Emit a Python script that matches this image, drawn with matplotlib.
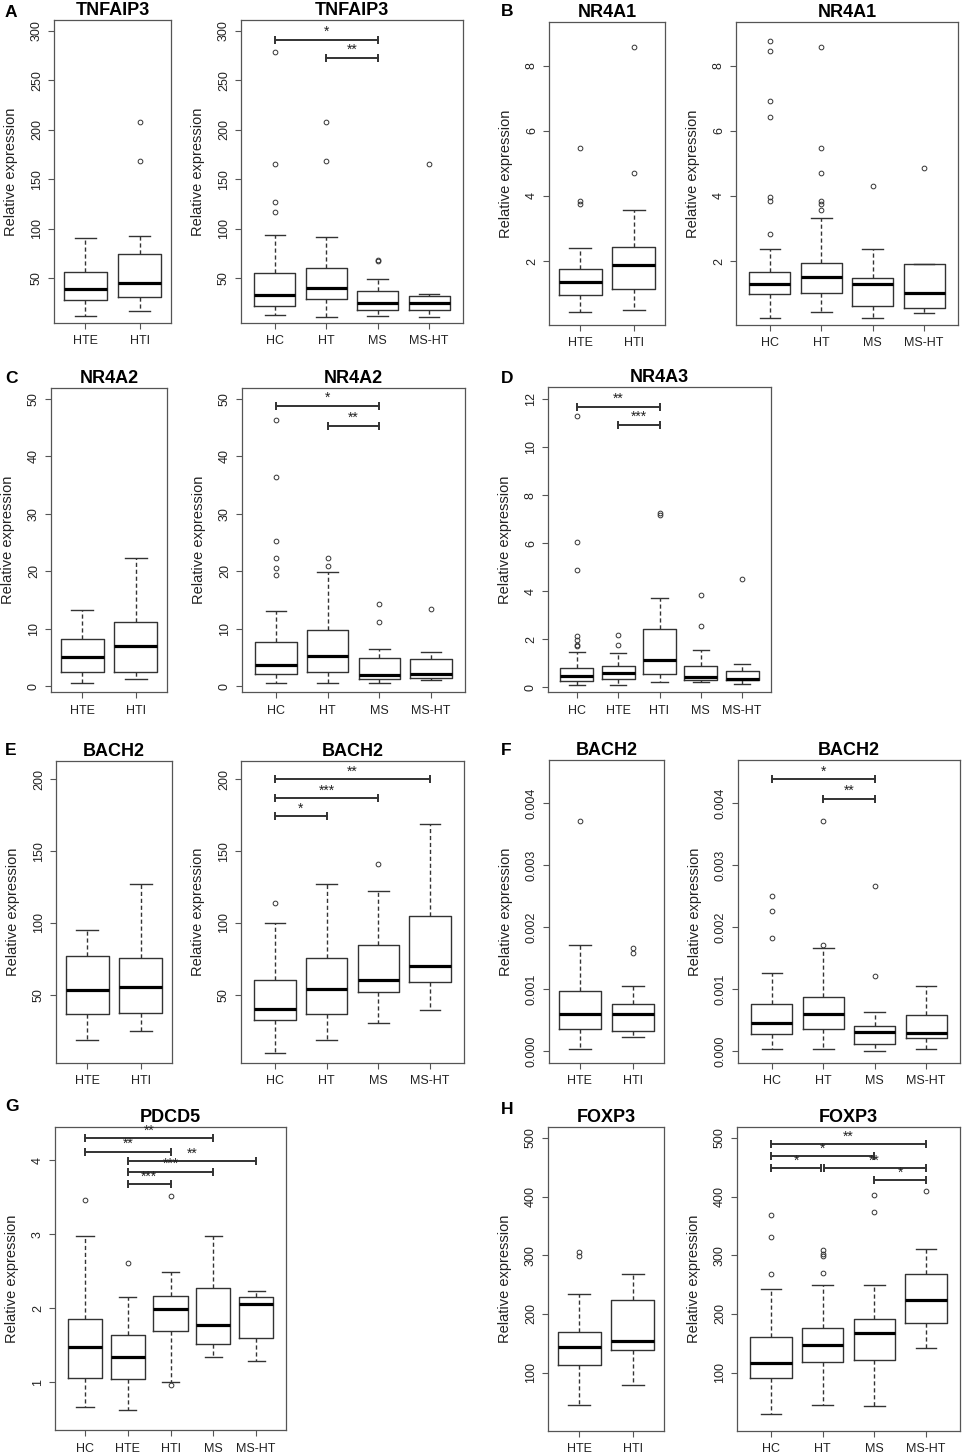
import numpy as np
import matplotlib
matplotlib.use("Agg")
import matplotlib.pyplot as plt

plt.rcParams['font.family'] = ['Liberation Sans', 'DejaVu Sans']

W, H = 964, 1455

# -------------------------
# Data
# box rows: [lower whisker, Q1, median, Q3, upper whisker]
# -------------------------

sub_groups = ["HTE", "HTI"]
main_groups = ["HC", "HT", "MS", "MS-HT"]
five_groups = ["HC", "HTE", "HTI", "MS", "MS-HT"]

tnfaip3_sub = [[11.5, 27.4, 38.5, 55.7, 90.2],
               [16.2, 30.7, 45.3, 74.0, 92.6]]
tnfaip3_sub_out = [[], [207.4, 168.6]]
tnfaip3_main = [[12.8, 21.6, 32.4, 54.7, 93.9],
                [10.8, 28.4, 40.2, 60.1, 91.9],
                [11.5, 17.2, 24.3, 36.5, 48.6],
                [10.8, 17.2, 24.3, 31.8, 33.8]]
tnfaip3_main_out = [[278.4, 165.2, 127.4, 116.6], [207.4, 168.6], [68.2, 66.9], [165.2]]
tnfaip3_sig = [(0, 2, 290.9, "*"), (1, 2, 273.0, "**")]

nr4a1_sub = [[0.426, 0.968, 1.346, 1.765, 2.40],
             [0.487, 1.13, 1.877, 2.43, 3.564]]
nr4a1_sub_out = [[5.475, 3.84, 3.75], [8.58, 4.70]]
nr4a1_main = [[0.242, 0.978, 1.305, 1.673, 2.378],
              [0.436, 1.008, 1.509, 1.939, 3.319],
              [0.242, 0.62, 1.295, 1.489, 2.358],
              [0.395, 0.569, 1.019, 1.898, 1.898]]
nr4a1_main_out = [[8.767, 8.46, 6.917, 6.436, 3.983, 3.86, 2.818],
                  [8.58, 5.486, 4.70, 3.86, 3.75, 3.584], [4.32], [4.872]]

nr4a2_sub = [[0.58, 2.44, 5.06, 8.26, 13.31],
             [1.34, 2.56, 6.92, 11.16, 22.27]]
nr4a2_sub_out = [[], []]
nr4a2_main = [[0.64, 2.15, 3.72, 7.73, 13.14],
              [0.64, 2.5, 5.35, 9.71, 19.83],
              [0.64, 1.28, 1.98, 4.83, 6.45],
              [1.16, 1.51, 2.09, 4.71, 5.93]]
nr4a2_main_out = [[46.28, 36.4, 25.23, 22.33, 20.58, 19.3], [22.33, 20.99], [14.24, 11.1], [13.43]]
nr4a2_sig = [(0, 2, 48.78, "*"), (1, 2, 45.35, "**")]

nr4a3 = [[0.083, 0.264, 0.458, 0.806, 1.458],
         [0.083, 0.361, 0.611, 0.875, 1.43],
         [0.21, 0.57, 1.15, 2.42, 3.71],
         [0.24, 0.32, 0.417, 0.875, 1.556],
         [0.153, 0.29, 0.361, 0.694, 0.986]]
nr4a3_out = [[11.29, 6.04, 4.875, 2.15, 1.99, 1.78, 1.71], [2.19, 1.75], [7.26, 7.19], [3.86, 2.56], [4.53]]
nr4a3_sig = [(0, 2, 11.69, "**"), (1, 2, 10.94, "***")]

bach2_e_sub = [[18.75, 36.8, 53.5, 77.1, 95.1],
               [25.0, 37.0, 55.3, 75.5, 127.1]]
bach2_e_sub_out = [[], []]
bach2_e_main = [[9.5, 32.2, 39.8, 60.0, 99.8],
                [18.75, 36.6, 53.7, 75.7, 127.1],
                [30.6, 52.1, 60.6, 84.5, 122.0],
                [39.6, 59.0, 69.9, 105.1, 168.75]]
bach2_e_main_out = [[113.9], [], [141.2], []]
bach2_e_sig = [(0, 3, 200.0, "**"), (0, 2, 186.6, "***"), (0, 1, 174.3, "*")]

# panel F values are in units of 1e-3
bach2_f_sub = [[0.043, 0.354, 0.606, 0.971, 1.716],
               [0.225, 0.322, 0.595, 0.756, 1.056]]
bach2_f_sub_out = [[3.71], [1.657, 1.576]]
bach2_f_main = [[0.043, 0.273, 0.450, 0.767, 1.265],
                [0.043, 0.354, 0.601, 0.879, 1.668],
                [0.005, 0.118, 0.316, 0.408, 0.638],
                [0.043, 0.214, 0.300, 0.590, 1.046]]
bach2_f_main_out = [[2.499, 2.268, 1.823], [3.716, 1.716], [2.66, 1.206], []]
bach2_f_sig = [(0, 2, 4.386, "*"), (1, 2, 4.07, "**")]

pdcd5 = [[0.662, 1.059, 1.474, 1.862, 2.971],
         [0.621, 1.045, 1.347, 1.636, 2.155],
         [1.0, 1.690, 1.988, 2.173, 2.493],
         [1.347, 1.519, 1.776, 2.281, 2.98],
         [1.289, 1.60, 2.065, 2.15, 2.24]]
pdcd5_out = [[3.468], [2.606], [3.517, 0.968], [], []]
pdcd5_sig = [(0, 3, 4.302, "**"), (0, 2, 4.117, "**"), (1, 4, 3.991, "**"),
             (1, 3, 3.847, "***"), (1, 2, 3.68, "***")]

foxp3_sub = [[44.7, 112.5, 143.9, 168.9, 233.9],
             [79.5, 138.7, 154.1, 224.2, 268.1]]
foxp3_sub_out = [[306.3, 299.4], []]
foxp3_main = [[28.8, 90.9, 117.1, 160.4, 243.0],
              [44.7, 118.8, 147.3, 175.2, 249.9],
              [43.0, 121.1, 167.8, 191.2, 249.9],
              [142.7, 184.9, 223.6, 268.7, 310.3]]
foxp3_main_out = [[368.9, 331.9, 268.1], [308.5, 302.8, 298.3, 269.2], [402.0, 373.5], [409.4]]
foxp3_sig = [(0, 3, 489.2, "**"), (0, 2, 468.7, "*"), (0, 1, 448.7, "*"),
             (1, 3, 448.7, "**"), (2, 3, 427.6, "*")]

# -------------------------
# Drawing
# -------------------------

BOX_C = "#333333"
FRAME_C = "#555555"

fig = plt.figure(figsize=(W / 100, H / 100), dpi=100)


def panel(rect, groups, stats, outliers, ylim, yticks, title, sig=(), scale=1.0, fmt="{:g}"):
    l, t, r, b = rect
    ax = fig.add_axes([l / W, 1 - b / H, (r - l) / W, (b - t) / H])
    pos = np.arange(1, len(groups) + 1)
    boxes = []
    for s, o in zip(stats, outliers):
        s = np.asarray(s) * scale
        boxes.append(dict(whislo=s[0], q1=s[1], med=s[2], q3=s[3], whishi=s[4],
                          fliers=np.asarray(o) * scale))
    ax.bxp(boxes, positions=pos, widths=0.8, capwidths=0.4, showfliers=True,
           boxprops=dict(color=BOX_C, lw=1.0),
           whiskerprops=dict(color=BOX_C, lw=1.0, ls=(0, (3, 2))),
           capprops=dict(color=BOX_C, lw=1.0),
           medianprops=dict(color="black", lw=2.3, solid_capstyle="butt"),
           flierprops=dict(marker="o", mfc="none", mec=BOX_C, ms=3.4, mew=0.7))
    n = len(groups)
    ax.set_xlim(0.5 - 0.04 * n, n + 0.5 + 0.04 * n)
    ax.set_ylim(ylim[0] * scale, ylim[1] * scale)
    ax.set_xticks(pos)
    ax.set_xticklabels(groups)
    yt = np.asarray(yticks) * scale
    ax.set_yticks(yt)
    ax.set_yticklabels([fmt.format(v) for v in yt], rotation=90, va="center")
    ax.tick_params(direction="out", length=4, width=0.8, color=FRAME_C,
                   labelsize=9, labelcolor="#222222")
    ax.tick_params(axis="x", pad=5)
    ax.tick_params(axis="y", pad=4)
    for sp in ax.spines.values():
        sp.set_color(FRAME_C)
        sp.set_linewidth(0.9)
    ax.set_ylabel("Relative expression", fontsize=10.5, color="#222222")
    ax.yaxis.set_label_coords(-36 / (r - l), 0.5)
    ax.set_title(title, fontweight="bold", fontsize=13, pad=3.5)
    for k, (i, j, y, lab) in enumerate(sig):
        x1, x2 = float(pos[i]), float(pos[j])
        # brackets meeting at the same height get a small gap at the shared end
        for m, (i2, j2, y2, _) in enumerate(sig):
            if m != k and y2 == y:
                if i == j2:
                    x1 += 0.03
                if j == i2:
                    x2 -= 0.03
        ax.plot([x1, x2], [y * scale, y * scale], color=BOX_C, lw=1.4,
                marker="|", ms=6, mew=1.4)
        ax.annotate(lab, ((pos[i] + pos[j]) / 2, y * scale), xytext=(0, 0.5),
                    textcoords="offset points", ha="center", va="bottom",
                    fontsize=10, color="#222222")
    return ax


def letter(x, y, s):
    fig.text(x / W, 1 - y / H, s, fontsize=12.5, fontweight="bold", va="top", ha="left")


# A
panel((54, 20, 171, 323), sub_groups, tnfaip3_sub, tnfaip3_sub_out, (4.5, 311),
      [50, 100, 150, 200, 250, 300], "TNFAIP3")
panel((241, 20, 463, 323), main_groups, tnfaip3_main, tnfaip3_main_out, (4.5, 311),
      [50, 100, 150, 200, 250, 300], "TNFAIP3", tnfaip3_sig)
letter(5, 5, "A")

# B
panel((549, 22, 665, 325), sub_groups, nr4a1_sub, nr4a1_sub_out, (0.04, 9.34),
      [2, 4, 6, 8], "NR4A1")
panel((736, 22, 958, 325), main_groups, nr4a1_main, nr4a1_main_out, (0.04, 9.34),
      [2, 4, 6, 8], "NR4A1")
letter(501, 4, "B")

# C
panel((51, 388, 167, 692), sub_groups, nr4a2_sub, nr4a2_sub_out, (-1.0, 51.9),
      [0, 10, 20, 30, 40, 50], "NR4A2")
panel((242, 388, 465, 692), main_groups, nr4a2_main, nr4a2_main_out, (-1.0, 51.9),
      [0, 10, 20, 30, 40, 50], "NR4A2", nr4a2_sig)
letter(5, 371, "C")

# D
panel((548, 387, 771, 692), five_groups, nr4a3, nr4a3_out, (-0.19, 12.51),
      [0, 2, 4, 6, 8, 10, 12], "NR4A3", nr4a3_sig)
letter(501, 371, "D")

# E
panel((56, 761, 172, 1063), sub_groups, bach2_e_sub, bach2_e_sub_out, (2.5, 212.7),
      [50, 100, 150, 200], "BACH2")
panel((241, 761, 464, 1063), main_groups, bach2_e_main, bach2_e_main_out, (2.5, 212.7),
      [50, 100, 150, 200], "BACH2", bach2_e_sig)
letter(5, 743, "E")

# F
panel((549, 760, 664, 1063), sub_groups, bach2_f_sub, bach2_f_sub_out, (-0.188, 4.692),
      [0, 1, 2, 3, 4], "BACH2", scale=1e-3, fmt="{:.3f}")
panel((738, 760, 960, 1063), main_groups, bach2_f_main, bach2_f_main_out, (-0.188, 4.692),
      [0, 1, 2, 3, 4], "BACH2", bach2_f_sig, scale=1e-3, fmt="{:.3f}")
letter(501, 743, "F")

# G
panel((55, 1127, 286, 1430), five_groups, pdcd5, pdcd5_out, (0.355, 4.451),
      [1, 2, 3, 4], "PDCD5", pdcd5_sig)
letter(5, 1099, "G")

# H
panel((548, 1127, 664, 1431), sub_groups, foxp3_sub, foxp3_sub_out, (0.3, 518.8),
      [100, 200, 300, 400, 500], "FOXP3")
panel((737, 1127, 960, 1431), main_groups, foxp3_main, foxp3_main_out, (0.3, 518.8),
      [100, 200, 300, 400, 500], "FOXP3", foxp3_sig)
letter(501, 1102, "H")

fig.savefig("out.png", dpi=100)
